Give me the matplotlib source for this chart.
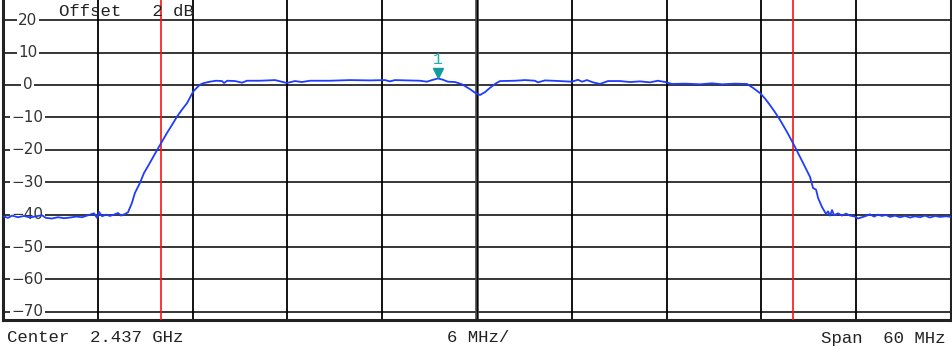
import numpy as np
import matplotlib.pyplot as plt

# frequency offset from center (MHz) and level (dB)
freq = [-30.0, -29.68, -29.43, -29.05, -28.67, -28.29, -27.91, -27.53, -27.28, -26.90,
        -26.52, -26.14, -25.76, -25.38, -25.00, -24.62, -24.24, -24.05, -23.92, -23.73,
        -23.48, -23.23, -22.97, -22.72, -22.53, -22.28, -22.09, -21.84, -21.65, -21.33,
        -21.08, -20.70, -20.38, -20.06, -19.62, -19.30, -18.99, -18.67, -18.35, -17.97,
        -17.72, -17.53, -17.28, -16.90, -16.52, -16.14, -16.01, -15.81, -15.31, -14.87,
        -14.56, -13.73, -12.78, -12.03, -11.52, -11.08, -10.57, -9.30, -8.04, -6.77,
        -5.82, -5.51, -5.19, -4.24, -3.61, -3.17, -2.85, -2.47, -2.15, -1.84,
        -1.39, -0.95, -0.44, -0.13, 0.19, 0.51, 0.82, 1.20, 1.46, 2.41,
        3.04, 3.67, 3.86, 4.30, 5.25, 6.01, 6.39, 6.65, 6.96, 7.34,
        7.78, 8.29, 9.05, 9.68, 10.32, 10.95, 11.45, 11.90, 12.34, 13.16,
        14.11, 14.87, 15.51, 16.33, 17.09, 17.47, 17.91, 18.23, 18.54, 18.86,
        19.18, 19.62, 20.06, 20.32, 20.63, 21.08, 21.27, 21.46, 21.59, 21.84,
        22.09, 22.22, 22.35, 22.47, 22.60, 22.85, 23.10, 23.36, 23.61, 23.92,
        24.11, 24.37, 24.62, 24.87, 25.13, 25.38, 25.63, 25.89, 26.14, 26.46,
        26.77, 27.09, 27.41, 27.72, 28.04, 28.35, 28.67, 28.99, 29.30, 29.68, 30.0]
level = [-40.5, -41.0, -40.3, -40.8, -40.4, -40.9, -40.5, -40.2, -41.0, -41.2,
         -40.8, -41.1, -40.9, -40.6, -40.8, -40.2, -39.6, -41.0, -39.2, -40.5,
         -40.0, -40.4, -40.0, -39.5, -40.3, -39.8, -39.3, -36.4, -33.3, -30.2,
         -27.2, -24.0, -21.2, -18.5, -14.8, -12.3, -9.8, -7.6, -5.6, -2.1,
         -0.8, 0.1, 0.6, 1.0, 1.3, 1.2, 0.6, 1.3, 1.2, 0.7,
         1.3, 1.3, 1.5, 0.6, 1.2, 0.9, 1.3, 1.3, 1.5, 1.4,
         1.5, 1.1, 1.5, 1.4, 1.3, 1.0, 1.5, 2.0, 1.6, 1.0,
         0.9, 0.2, -1.3, -2.4, -3.1, -2.2, -0.9, 0.5, 1.2, 1.3,
         1.5, 1.3, 0.8, 1.4, 1.2, 1.0, 1.6, 1.0, 1.5, 0.8,
         0.3, 1.2, 1.2, 0.9, 1.1, 0.8, 1.3, 0.9, 0.3, 0.4,
         0.2, 0.5, 0.2, 0.4, 0.3, -0.9, -2.5, -4.2, -6.2, -8.4,
         -10.8, -14.5, -18.5, -21.0, -24.0, -28.4, -31.8, -32.3, -34.9, -37.7,
         -39.8, -39.0, -40.3, -38.6, -40.2, -39.6, -40.3, -39.7, -40.3, -40.6,
         -41.2, -40.8, -40.4, -39.9, -40.6, -40.0, -40.4, -40.1, -40.7, -40.3,
         -40.8, -40.4, -40.9, -40.5, -40.8, -40.3, -40.9, -40.4, -40.7, -40.5, -40.7]

y_grid = [20, 10, 0, -10, -20, -30, -40, -50, -60, -70]
x_grid = [-24, -18, -12, -6, 0, 6, 12, 18, 24]
red_lines = [-20, 20]
marker_f = -2.47
marker_level = 2.0

fig = plt.figure(figsize=(9.53, 3.6), dpi=100)
ax = fig.add_axes([3/953, 40/360, 948/953, 320/360])
ax.set_xlim(-30, 30)
ax.set_ylim(-72.5, 26.2)
ax.set_xticks([])
ax.set_yticks([])
ax.spines['top'].set_visible(False)
for s in ['left', 'right', 'bottom']:
    ax.spines[s].set_linewidth(2.2)
    ax.spines[s].set_color('#222222')

for y in y_grid:
    ax.axhline(y, color='black', lw=1.1, zorder=1)
    lab = str(y).replace('-', '\u2212')
    ax.text(0.026, y, lab, transform=ax.get_yaxis_transform(), ha='center', va='center',
            fontsize=11, color='#333333', zorder=2,
            bbox=dict(facecolor='white', edgecolor='none', pad=1.0))
for x in x_grid:
    if x == 0:
        ax.axvline(x, color='#444444', lw=2.6, zorder=1)
        ax.axvline(x, color='black', lw=0.8, zorder=1)
    else:
        ax.axvline(x, color='black', lw=1.3, zorder=1)

for x in red_lines:
    ax.axvline(x, color='#ff1010', lw=1.2, zorder=3)

ax.plot(freq, level, color='#1f3cff', lw=1.3, zorder=4)

ax.plot([marker_f], [marker_level + 1.6], marker='v', markersize=7, color='#129c9c', zorder=5)
ax.text(marker_f, marker_level + 5.8, '1', ha='center', va='center', fontsize=12,
        color='#20b0b0', family='Liberation Mono', zorder=5)

ax.text(56/948, 1 - 12/320, 'Offset   2 dB', transform=ax.transAxes, ha='left', va='center',
        fontsize=12.5, family='Liberation Mono', color='#222222', zorder=5)

fig.text(7/953, 1 - 338/360, 'Center  2.437 GHz', ha='left', va='center',
         fontsize=12.5, family='Liberation Mono', color='#222222')
fig.text(478/953, 1 - 338/360, '6 MHz/', ha='center', va='center',
         fontsize=12.5, family='Liberation Mono', color='#222222')
fig.text(946/953, 1 - 338/360, 'Span  60 MHz', ha='right', va='center',
         fontsize=12.5, family='Liberation Mono', color='#222222')

plt.savefig('out.png', dpi=100)
